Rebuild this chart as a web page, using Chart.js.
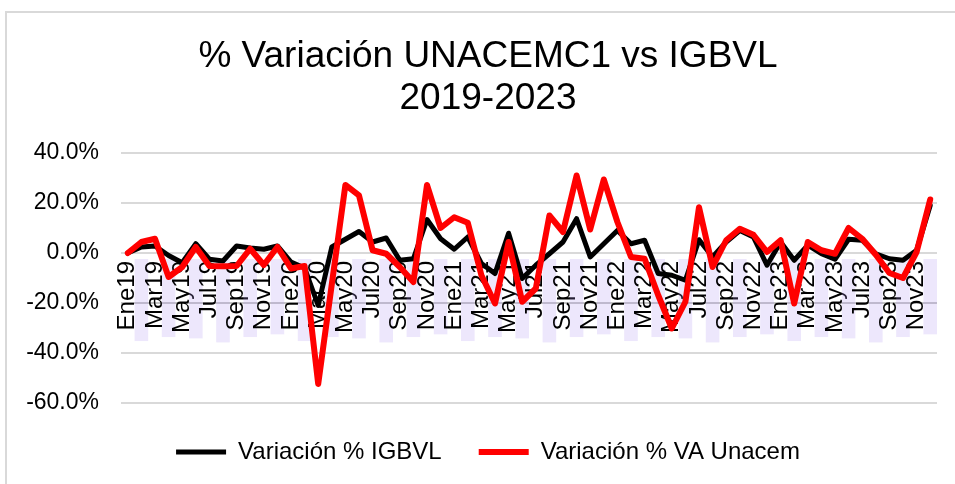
<!DOCTYPE html>
<html>
<head>
<meta charset="utf-8">
<script src="https://cdn.jsdelivr.net/npm/chart.js@4.4.0/dist/chart.umd.min.js"></script>
<style>
  body { margin: 0; background: #fff; }
  #wrap { position: relative; width: 955px; height: 484px; }
  #frame { position: absolute; left: 5px; top: 11px; right: -5px; bottom: -5px;
           border-left: 2px solid #d9d9d9; border-top: 2px solid #d9d9d9; }
  canvas { position: absolute; left: 0; top: 0; }
</style>
</head>
<body>
<div id="wrap">
  <div id="frame"></div>
  <canvas id="chart" width="955" height="484"></canvas>
</div>
<script>
// months Ene19 .. Dic23
var meses = ["Ene","Feb","Mar","Abr","May","Jun","Jul","Ago","Sep","Oct","Nov","Dic"];
var anios = ["19","20","21","22","23"];
var categorias = [];
for (var a = 0; a < anios.length; a++) {
  for (var m = 0; m < meses.length; m++) {
    categorias.push(meses[m] + anios[a]);
  }
}

// % variation
var igbvl = [
  0, 2.4, 2.8, -1.0, -3.9, 3.7, -2.5, -3.2, 2.8, 2.0, 1.5, 2.8,
  -3.6, -6.0, -21.0, 2.4, 5.5, 8.6, 4.4, 6.0, -2.9, -2.3, 13.4, 5.7,
  1.5, 6.4, -4.2, -8.2, 7.9, -10.2, -4.9, -0.3, 4.4, 13.7, -1.6, 3.7,
  9.0, 3.7, 5.1, -8.2, -8.9, -10.9, 5.3, -1.6, 4.4, 9.0, 6.4, -4.9,
  4.4, -2.9, 3.1, -0.3, -2.5, 5.5, 5.1, -0.3, -2.3, -2.9, 1.1, 19.0
];
var unacem = [
  0, 4.4, 5.7, -9.6, -5.6, 2.4, -5.2, -5.3, -5.2, 1.7, -4.8, 2.4,
  -6.2, -5.2, -52.4, -12.5, 27.2, 23.0, 1.1, -0.3, -5.6, -11.6, 27.2, 10.0,
  14.3, 12.1, -8.9, -20.2, 4.4, -19.5, -14.2, 15.0, 8.4, 31.0, 9.4, 29.4,
  12.4, -1.6, -2.3, -16.9, -30.2, -19.5, 18.3, -5.6, 5.1, 9.7, 7.3, 0.4,
  5.1, -20.2, 4.4, 1.1, -0.3, 10.0, 5.7, -0.7, -8.0, -10.0, 0.4, 21.4
];
var yTicks = [-60, -40, -20, 0, 20, 40];

var fuente = "'Liberation Sans', Arial, sans-serif";

new Chart(document.getElementById("chart"), {
  type: "line",
  data: {
    labels: categorias,
    datasets: [
      {
        label: "Variación % IGBVL",
        data: igbvl,
        borderColor: "#000000",
        backgroundColor: "#000000",
        borderWidth: 5,
        pointRadius: 0,
        tension: 0,
        borderJoinStyle: "round",
        borderCapStyle: "round",
        order: 1
      },
      {
        label: "Variación % VA Unacem",
        data: unacem,
        borderColor: "#ff0000",
        backgroundColor: "#ff0000",
        borderWidth: 6,
        pointRadius: 0,
        tension: 0,
        borderJoinStyle: "round",
        borderCapStyle: "round",
        order: 0
      }
    ]
  },
  options: {
    responsive: false,
    animation: false,
    layout: { padding: { left: 27, right: 6, top: 0, bottom: 10 } },
    plugins: {
      title: {
        display: true,
        text: ["% Variación UNACEMC1 vs IGBVL", "2019-2023"],
        color: "#000",
        font: { family: fuente, size: 37, weight: "normal", lineHeight: 1.135 },
        padding: { top: 36, bottom: 33 }
      },
      legend: {
        position: "bottom",
        labels: {
          color: "#000",
          font: { family: fuente, size: 24 },
          usePointStyle: true,
          pointStyle: "line",
          pointStyleWidth: 50,
          padding: 37,
          sort: function (a, b) { return a.datasetIndex - b.datasetIndex; }
        }
      },
      tooltip: { enabled: false }
    },
    scales: {
      x: {
        position: { y: 0 },
        offset: true,
        grid: { display: false, drawTicks: false },
        border: { display: false },
        ticks: {
          autoSkip: false,
          minRotation: 90,
          maxRotation: 90,
          padding: 8,
          labelOffset: -6.8,
          font: { family: fuente, size: 24, lineHeight: 0.567 },
          color: function (ctx) { return ctx.index % 2 === 0 ? "#000" : "rgba(0,0,0,0)"; },
          showLabelBackdrop: true,
          backdropPadding: { left: 12, right: 2, top: 0, bottom: 0 },
          backdropColor: function (ctx) {
            return ctx.index % 2 === 0 ? "rgba(0,0,0,0)" : "rgba(175,145,240,0.22)";
          }
        }
      },
      y: {
        min: -60,
        max: 40,
        afterBuildTicks: function (scale) {
          scale.ticks = yTicks.map(function (v) { return { value: v }; });
        },
        afterFit: function (scale) { scale.width = 94; },
        grid: {
          color: function (ctx) { return ctx.tick && ctx.tick.value === -20 ? "#c4c4c4" : "#d9d9d9"; },
          lineWidth: 2,
          drawTicks: false
        },
        border: { display: false },
        ticks: {
          padding: 22,
          color: "#000",
          font: { family: fuente, size: 23 },
          callback: function (v) { return v.toFixed(1) + "%"; }
        }
      },
      // empty right-hand axis, only reserves the right margin of the plot
      yDer: {
        position: "right",
        display: true,
        afterFit: function (scale) { scale.width = 12; },
        grid: { display: false, drawTicks: false },
        border: { display: false },
        ticks: { display: false }
      }
    }
  }
});
</script>
</body>
</html>
